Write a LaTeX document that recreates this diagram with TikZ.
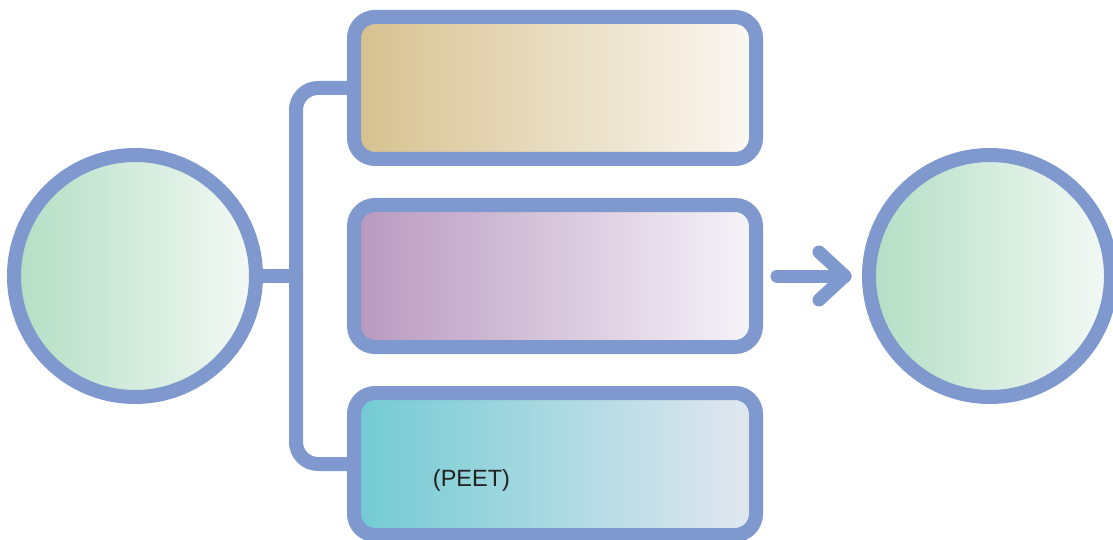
\documentclass[tikz,border=0pt]{standalone}
\usepackage{fontspec}
\setmainfont{Liberation Sans}
\usetikzlibrary{calc,backgrounds}
\definecolor{edge}{HTML}{7F98CE}
\definecolor{grnL}{HTML}{B3DEC4}
\definecolor{grnR}{HTML}{F4F9F5}
\definecolor{tanL}{HTML}{D6C18F}
\definecolor{tanR}{HTML}{FBF8F3}
\definecolor{purL}{HTML}{B899BF}
\definecolor{purR}{HTML}{F6F4F9}
\definecolor{cyaL}{HTML}{72CBD3}
\definecolor{cyaR}{HTML}{E3E7F0}
\definecolor{txt}{HTML}{222222}
\tikzset{
  ring/.style={circle, draw=edge, line width=14pt, minimum size=242pt, inner sep=0pt, left color=grnL, right color=grnR},
  card/.style={rectangle, draw=edge, line width=14pt, rounded corners=21pt, minimum width=402pt, minimum height=142pt, inner sep=0pt},
  link/.style={draw=edge, line width=14pt},
  arrowline/.style={draw=edge, line width=13pt, line cap=round, line join=round},
  lbl/.style={text=txt, font=\fontsize{23.5}{28}\selectfont, inner sep=0pt}
}
\begin{document}
\begin{tikzpicture}[x=1pt, y=-1pt]
\useasboundingbox (0,0) rectangle (1113,540);
\coordinate (j) at (296,276);
\node[ring] (L) at (135,276) {};
\node[ring] (R) at (990,276) {};
\node[card, left color=tanL, right color=tanR] (top) at (555,88) {};
\node[card, left color=purL, right color=purR] (mid) at (555,276) {};
\node[card, left color=cyaL, right color=cyaR] (bot) at (555,464) {};
\begin{scope}[on background layer]
\path[link] (L.east) -- (j);
\path[link, rounded corners=22pt] (top.west) -| (j) |- (bot.west);
\end{scope}
\node[lbl] (t) at (471.5,480) {(PEET)};
\coordinate (tip) at ($(R.west)+(-17,0)$);
\path[arrowline, shorten <=14pt] (mid.east) -- (tip);
\path[arrowline] ($(tip)+(-26,-24)$) -- (tip) -- ($(tip)+(-26,24)$);
\end{tikzpicture}
\end{document}
